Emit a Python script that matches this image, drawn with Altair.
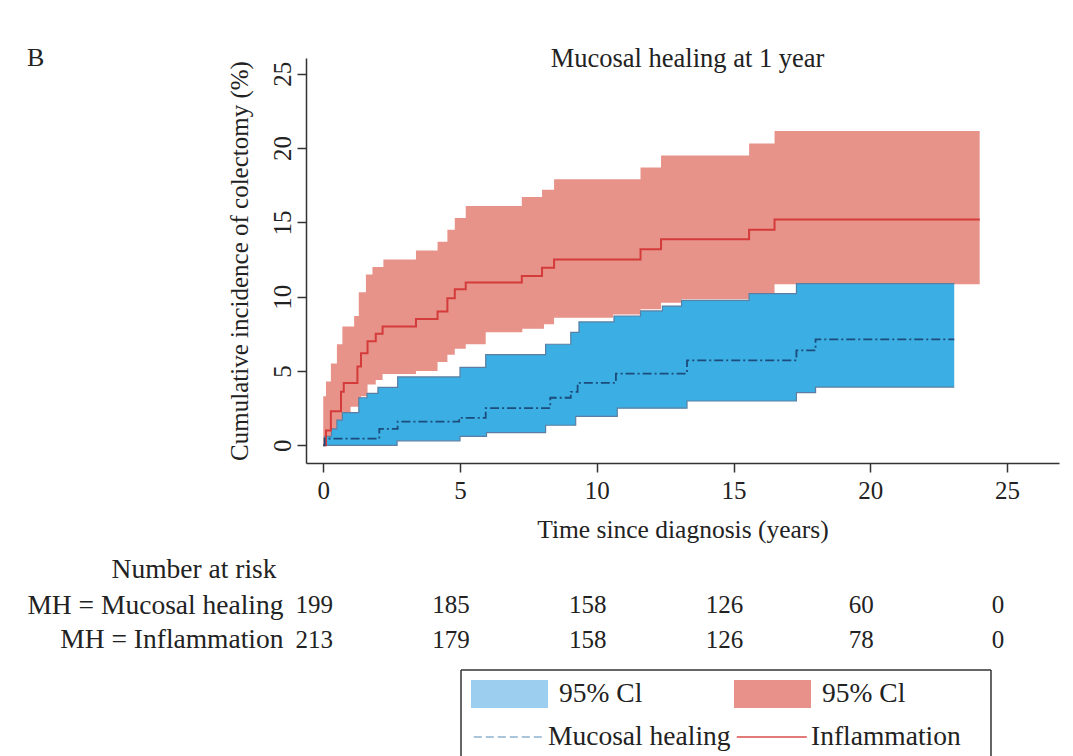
import altair as alt
import pandas as pd

FONT = "Liberation Serif"
TXT = "#222222"
AX = "#333333"

# ---------------- data ----------------
# Inflammation: cumulative incidence (%) step curve and 95% CI
IN_T = [0, 0.1, 0.28, 0.65, 0.75, 1.25, 1.38, 1.62, 1.92, 2.17, 3.39, 4.18, 4.54, 4.81, 5.21,
        7.26, 8.0, 8.44, 11.6, 12.35, 15.57, 16.5, 24.0]
IN_V = [0, 1.0, 2.3, 3.6, 4.2, 5.3, 6.2, 7.0, 7.5, 8.0, 8.5, 9.0, 9.9, 10.5, 10.95,
        11.4, 11.95, 12.5, 13.2, 13.86, 14.5, 15.2, 15.2]
IN_UP_T = [0, 0.1, 0.28, 0.5, 0.7, 1.13, 1.3, 1.56, 1.8, 2.2, 3.39, 4.18, 4.54, 4.81, 5.21,
           7.26, 8.0, 8.44, 11.6, 12.35, 15.57, 16.5, 24.0]
IN_UP_V = [3.3, 4.3, 5.5, 6.8, 8.0, 8.7, 10.3, 11.5, 12.0, 12.5, 13.1, 13.7, 14.5, 15.3, 16.1,
           16.7, 17.2, 17.9, 18.7, 19.5, 20.3, 21.15, 21.15]
IN_LO_T = [0, 0.28, 0.5, 0.75, 1.0, 1.38, 1.62, 1.92, 2.17, 3.39, 4.18, 4.54, 4.81, 5.21, 5.94,
           7.28, 8.07, 8.44, 10.6, 11.6, 12.35, 13.1, 15.57, 16.5, 24.0]
IN_LO_V = [0, 0.7, 1.4, 2.1, 2.6, 3.3, 4.1, 4.4, 4.8, 5.0, 5.6, 6.1, 6.5, 6.8, 7.6,
           7.85, 8.15, 8.59, 8.81, 9.15, 9.6, 9.82, 10.2, 10.83, 10.83]

# Mucosal healing: cumulative incidence (%) step curve and 95% CI
MH_T = [0, 0.05, 2.05, 2.72, 4.97, 5.94, 8.3, 9.05, 9.3, 10.7, 13.3, 17.3, 18.0, 23.07]
MH_V = [0, 0.45, 1.1, 1.6, 1.85, 2.5, 3.2, 3.6, 4.2, 4.82, 5.72, 6.39, 7.13, 7.13]
MH_UP_T = [0, 0.05, 0.3, 0.5, 0.7, 1.3, 1.6, 2.0, 2.72, 5.0, 5.94, 8.13, 9.05, 9.35, 10.63,
           11.6, 12.4, 13.1, 15.57, 17.3, 23.07]
MH_UP_V = [0, 0.6, 1.1, 1.7, 2.2, 3.2, 3.5, 3.9, 4.6, 5.25, 6.1, 6.8, 7.6, 8.3, 8.7,
           9.04, 9.37, 9.75, 10.2, 10.88, 10.88]
MH_LO_T = [0, 2.7, 5.0, 5.97, 8.13, 9.23, 10.75, 13.3, 17.3, 18.0, 23.07]
MH_LO_V = [0, 0.3, 0.6, 0.85, 1.35, 1.95, 2.5, 2.98, 3.54, 3.92, 3.92]

# Number at risk table
RISK_T = [0, 5, 10, 15, 20, 25]
RISK_MH = [199, 185, 158, 126, 60, 0]
RISK_IN = [213, 179, 158, 126, 78, 0]
ROW_MH = "MH = Mucosal healing"
ROW_IN = "MH = Inflammation"

# Legend entries
LEG_KEY = ["mh_ci", "in_ci", "mh_line", "in_line"]
LEG_LABEL = ["95% Cl", "95% Cl", "Mucosal healing", "Inflammation"]
LEG_COL = [0, 1, 0, 1]
LEG_ROW = [0, 0, 1, 1]

TICKS = [0, 5, 10, 15, 20, 25]

# ---------------- styles ----------------
RED_FILL = "#E8938A"
RED_LINE = "#D43B3B"
BLUE_FILL = "#3BAEE3"
BLUE_EDGE = "#5B7FA3"
BLUE_LINE = "#1C4C7C"
LEG_COLORS = ["#9CCFEF", "#E8908A", "#8DB0CB", "#D9504C"]


def step_at(ts, vs, t):
    v = vs[0]
    for ti, vi in zip(ts, vs):
        if ti <= t:
            v = vi
        else:
            break
    return v


def band_df(up_t, up_v, lo_t, lo_v):
    grid = sorted(set(up_t) | set(lo_t))
    return pd.DataFrame({
        "t": grid,
        "hi": [step_at(up_t, up_v, g) for g in grid],
        "lo": [step_at(lo_t, lo_v, g) for g in grid],
    })


in_band = band_df(IN_UP_T, IN_UP_V, IN_LO_T, IN_LO_V)
mh_band = band_df(MH_UP_T, MH_UP_V, MH_LO_T, MH_LO_V)
in_line = pd.DataFrame({"t": IN_T, "v": IN_V})
mh_line = pd.DataFrame({"t": MH_T, "v": MH_V})
mh_up = pd.DataFrame({"t": MH_UP_T, "v": MH_UP_V})
mh_lo = pd.DataFrame({"t": MH_LO_T, "v": MH_LO_V})

xs = alt.Scale(domain=[-0.63, 26.9], nice=False, zero=False)
ys = alt.Scale(domain=[-1.19, 26.06], nice=False, zero=False)

x_axis = alt.Axis(values=TICKS, title="Time since diagnosis (years)", grid=False,
                  tickSize=9, labelPadding=6, titlePadding=14, labelFlush=False, titleFontSize=25.5)
y_axis = alt.Axis(values=TICKS, title="Cumulative incidence of colectomy (%)", grid=False,
                  tickSize=9, labelAngle=270, labelAlign="center", labelBaseline="alphabetic",
                  labelPadding=7, titlePadding=18, labelFlush=False)

X = alt.X("t:Q", scale=xs, axis=x_axis)

band_red = alt.Chart(in_band).mark_area(interpolate="step-after", color=RED_FILL, opacity=1).encode(
    x=X, y=alt.Y("hi:Q", scale=ys, axis=y_axis), y2="lo:Q")
band_blue = alt.Chart(mh_band).mark_area(interpolate="step-after", color=BLUE_FILL, opacity=1).encode(
    x=X, y=alt.Y("hi:Q", scale=ys, axis=y_axis), y2="lo:Q")
edge_up = alt.Chart(mh_up).mark_line(interpolate="step-after", color=BLUE_EDGE, strokeWidth=1.2).encode(
    x=X, y=alt.Y("v:Q", scale=ys, axis=y_axis))
edge_lo = alt.Chart(mh_lo).mark_line(interpolate="step-after", color=BLUE_EDGE, strokeWidth=1.2).encode(
    x=X, y=alt.Y("v:Q", scale=ys, axis=y_axis))
line_red = alt.Chart(in_line).mark_line(interpolate="step-after", color=RED_LINE, strokeWidth=2).encode(
    x=X, y=alt.Y("v:Q", scale=ys, axis=y_axis))
line_blue = alt.Chart(mh_line).mark_line(interpolate="step-after", color=BLUE_LINE, strokeWidth=1.8,
                                         strokeDash=[9, 3, 2, 3]).encode(
    x=X, y=alt.Y("v:Q", scale=ys, axis=y_axis))

main = alt.layer(band_red, band_blue, edge_up, edge_lo, line_red, line_blue).properties(
    width=753, height=405,
    title=alt.TitleParams("Mucosal healing at 1 year", fontSize=26.5, font=FONT, fontWeight="normal",
                          color=TXT, offset=-14, anchor="middle", dx=5),
)

# ---------------- number at risk ----------------
risk_df = pd.DataFrame({
    "t": RISK_T + RISK_T,
    "row": [ROW_MH] * len(RISK_T) + [ROW_IN] * len(RISK_T),
    "n": RISK_MH + RISK_IN,
})
table = alt.Chart(risk_df).mark_text(font=FONT, fontSize=25, color=TXT, dx=-9).encode(
    x=alt.X("t:Q", scale=xs, axis=None),
    y=alt.Y("row:N", scale=alt.Scale(domain=[ROW_MH, ROW_IN]),
            axis=alt.Axis(title="Number at risk", titleAngle=0, titleAlign="right", titleX=-30, titleY=-19,
                          titleBaseline="middle", domain=False, ticks=False, labelPadding=23,
                          labelLimit=0, labelFontSize=27.5, titleFontSize=27.5)),
    text="n:N",
).properties(width=753, height=69)

# ---------------- legend panel ----------------
leg_df = pd.DataFrame({"key": LEG_KEY, "label": LEG_LABEL, "col": LEG_COL, "row": LEG_ROW})
LX = alt.X("col:Q", scale=alt.Scale(domain=[0, 1], range=[165, 428]), axis=None)
LY = alt.Y("row:Q", scale=alt.Scale(domain=[0, 1], range=[24, 67]), axis=None)
LC = alt.Color("key:N", scale=alt.Scale(domain=LEG_KEY, range=LEG_COLORS), legend=None)

RECT_PATH = "M0,-0.5L2.75,-0.5L2.75,0.5L0,0.5Z"
LINE_PATH = "M0.1,0L2.6,0"

leg_rects = alt.Chart(leg_df).transform_filter("datum.row == 0").mark_point(
    shape=RECT_PATH, size=3136, filled=True, opacity=1, strokeWidth=0).encode(x=LX, y=LY, color=LC)
leg_lines = alt.Chart(leg_df).transform_filter("datum.row == 1").mark_point(
    shape=LINE_PATH, size=3136, filled=False, opacity=1, strokeWidth=1.6).encode(
    x=LX, y=LY, color=LC,
    strokeDash=alt.StrokeDash("key:N", scale=alt.Scale(domain=["mh_line", "in_line"], range=[[8, 4], [1, 0]]),
                              legend=None))
leg_text0 = alt.Chart(leg_df).transform_filter("datum.row == 0").mark_text(
    align="left", baseline="middle", dx=88, font=FONT, fontSize=27.5, color=TXT).encode(x=LX, y=LY, text="label:N")
leg_text1 = alt.Chart(leg_df).transform_filter("datum.row == 1").mark_text(
    align="left", baseline="middle", dx=77, font=FONT, fontSize=27.5, color=TXT).encode(x=LX, y=LY, text="label:N")

frame_df = pd.DataFrame({"f": [0]})
frame_top = alt.Chart(frame_df).mark_rule(color=AX, strokeWidth=1.5).encode(
    x=alt.value(155), x2=alt.value(685), y=alt.value(0))
frame_left = alt.Chart(frame_df).mark_rule(color=AX, strokeWidth=1.5).encode(
    x=alt.value(155), y=alt.value(0), y2=alt.value(92))
frame_right = alt.Chart(frame_df).mark_rule(color=AX, strokeWidth=1.5).encode(
    x=alt.value(685), y=alt.value(0), y2=alt.value(92))

legend = alt.layer(frame_top, frame_left, frame_right, leg_rects, leg_lines, leg_text0, leg_text1).properties(
    width=753, height=92)

chart = alt.vconcat(main, table, legend, spacing=12).properties(
    title=alt.TitleParams("B", anchor="start", fontSize=26, font=FONT, fontWeight="normal", color=TXT, offset=-25),
    padding={"left": 18, "top": 36, "right": 5, "bottom": 0},
).configure_view(stroke=None).configure_axis(
    labelFont=FONT, titleFont=FONT, labelFontSize=25, titleFontSize=25, titleFontWeight="normal",
    labelColor=TXT, titleColor=TXT, domainColor=AX, tickColor=AX, domainWidth=1.5, tickWidth=1.5,
).configure_text(font=FONT)

chart.save("out.html", embed_options={"renderer": "svg", "actions": False})
